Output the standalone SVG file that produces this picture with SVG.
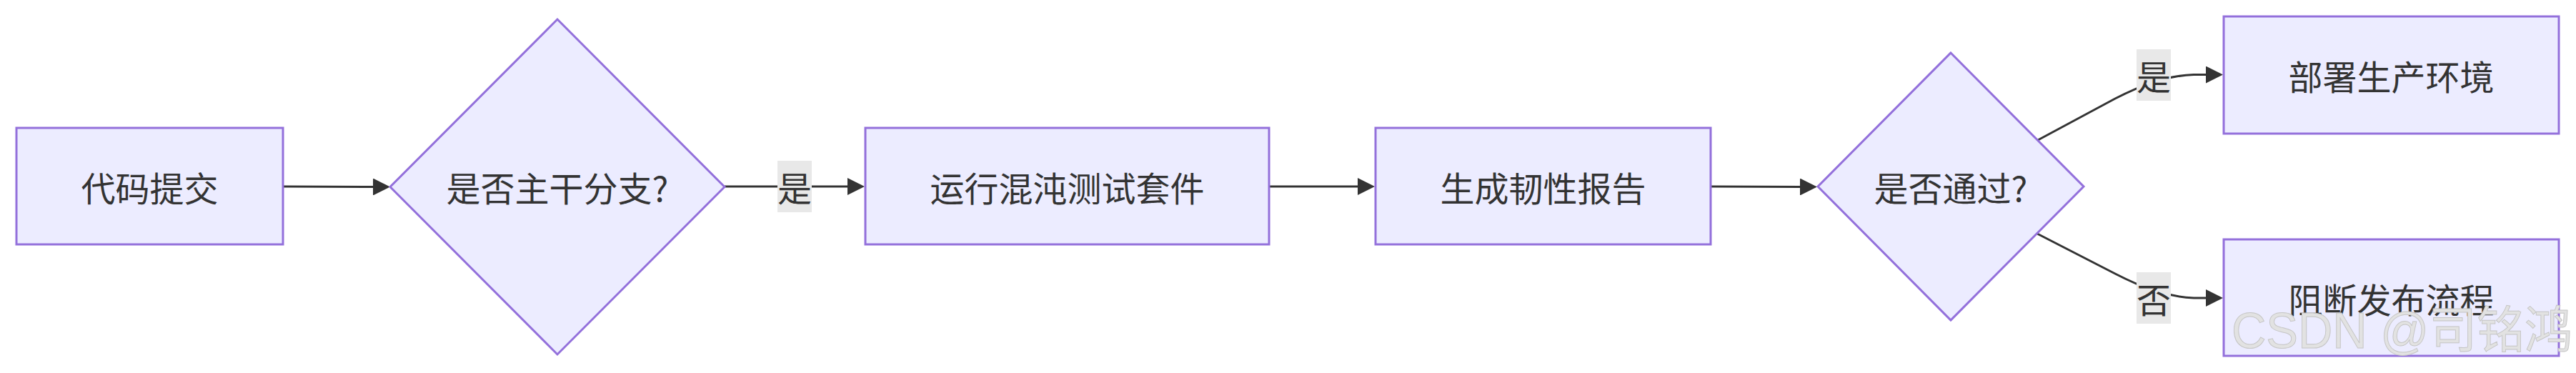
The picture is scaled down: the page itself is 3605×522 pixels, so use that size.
<svg xmlns="http://www.w3.org/2000/svg" width="3605" height="522" viewBox="0 0 3605 522">
<style>
.node{fill:#ECECFF;stroke:#9370DB;stroke-width:3}
.lbl{font-family:"Noto Sans CJK SC","Noto Sans",sans-serif;font-size:48px;fill:#333333;text-anchor:middle;dominant-baseline:central}
.edge{fill:none;stroke:#333333;stroke-width:3}
.ebg{fill:#e8e8e8}
.wm{font-family:"Liberation Sans","Noto Sans CJK SC",sans-serif;font-size:70px;fill:#e2e2e2;stroke:#c6c6c6;stroke-width:1}
</style>
<defs>
<marker id="arrow" markerUnits="userSpaceOnUse" markerWidth="24" markerHeight="24" viewBox="0 0 10 10" refX="0" refY="5" orient="auto">
<path d="M0,0 L10,5 L0,10 z" fill="#333333"/>
</marker>
</defs>
<rect width="3605" height="522" fill="#ffffff"/>
<g id="connectors">
<path class="edge" d="M396,261 L522,261.5" marker-end="url(#arrow)"/>
<path class="edge" d="M1014,261 L1186,261" marker-end="url(#arrow)"/>
<path class="edge" d="M1776,261 L1900,261" marker-end="url(#arrow)"/>
<path class="edge" d="M2394,261 L2519,261.5" marker-end="url(#arrow)"/>
<path class="edge" d="M2852,196 L2960,138 C2995,120 3030,106 3070,104.5 L3087,104.5" marker-end="url(#arrow)"/>
<path class="edge" d="M2851,327 L2960,383 C2995,401 3030,415 3070,417 L3087,417" marker-end="url(#arrow)"/>
<g id="edge-label-yes1">
<rect class="ebg" x="1088" y="225" width="48" height="72"/>
<text class="lbl" x="1112" y="261">是</text>
</g>
<g id="edge-label-yes2">
<rect class="ebg" x="2990" y="69" width="48" height="72"/>
<text class="lbl" x="3014" y="105">是</text>
</g>
<g id="edge-label-no">
<rect class="ebg" x="2990" y="381" width="48" height="72"/>
<text class="lbl" x="3014" y="417">否</text>
</g>
</g>
<g id="node-commit">
<rect class="node" x="23" y="179" width="373" height="163"/>
<text class="lbl" x="209.5" y="261">代码提交</text>
</g>
<g id="node-main-branch">
<polygon class="node" points="780,27 1014,261.5 780,496 546,261.5"/>
<text class="lbl" x="780" y="261">是否主干分支?</text>
</g>
<g id="node-chaos">
<rect class="node" x="1211" y="179" width="565" height="163"/>
<text class="lbl" x="1493.5" y="261">运行混沌测试套件</text>
</g>
<g id="node-report">
<rect class="node" x="1925" y="179" width="469" height="163"/>
<text class="lbl" x="2159.5" y="261">生成韧性报告</text>
</g>
<g id="node-pass">
<polygon class="node" points="2730,74 2916,261 2730,448 2544,261"/>
<text class="lbl" x="2730" y="261">是否通过?</text>
</g>
<g id="node-deploy">
<rect class="node" x="3112" y="23" width="469" height="164"/>
<text class="lbl" x="3346.5" y="105">部署生产环境</text>
</g>
<g id="node-block">
<rect class="node" x="3112" y="335" width="469" height="163"/>
<text class="lbl" x="3346.5" y="417">阻断发布流程</text>
</g>
<text class="wm" x="3123" y="487" textLength="477" lengthAdjust="spacingAndGlyphs">CSDN @司铭鸿</text>
</svg>
